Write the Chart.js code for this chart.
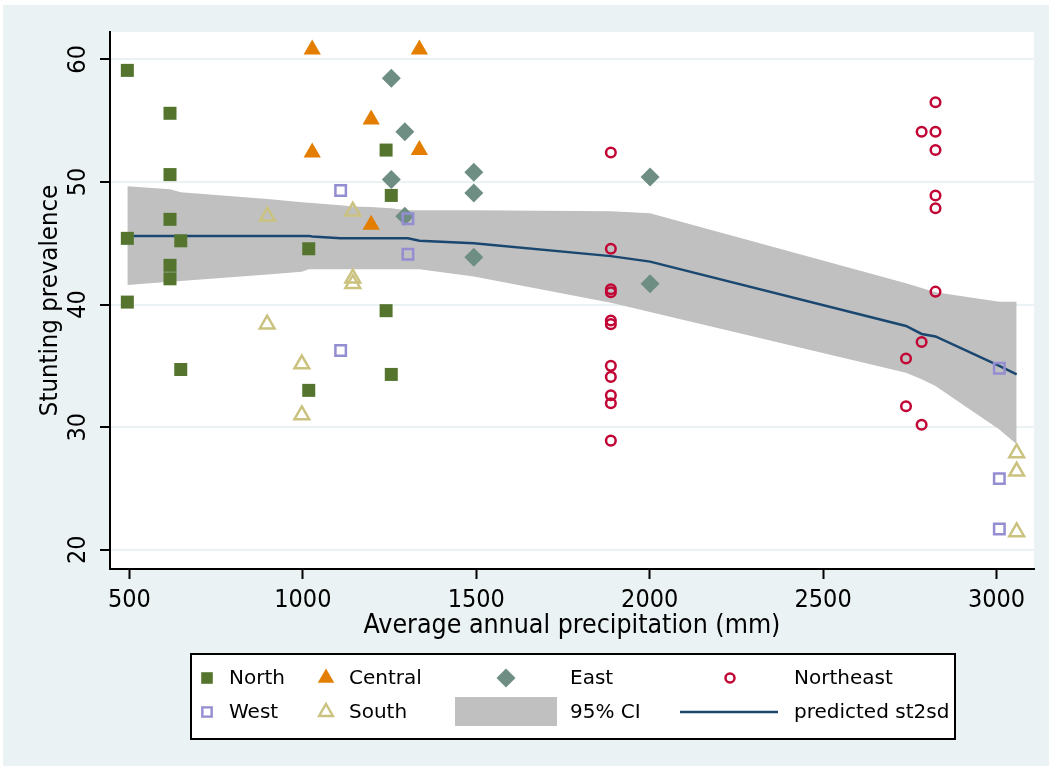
<!DOCTYPE html>
<html>
<head>
<meta charset="utf-8">
<title>Stunting prevalence and annual precipitation</title>
<script src="https://cdn.jsdelivr.net/npm/chart.js@4.4.1/dist/chart.umd.min.js"></script>
<style>
  html, body { margin: 0; padding: 0; background: #ffffff; }
  canvas { display: block; }
</style>
</head>
<body>
<canvas id="chart" width="1052" height="768"></canvas>
<script>
// Axis ticks
const precipTicks = [500, 1000, 1500, 2000, 2500, 3000];
const stuntingTicks = [20, 30, 40, 50, 60];

// Observations by region: average annual precipitation (mm) and stunting prevalence (%)
const northPrecip   = [494, 617, 617, 617, 494, 648, 617, 617, 494, 648, 1017, 1017, 1240, 1255, 1240, 1255];
const northStunting = [59.1, 55.6, 50.6, 46.95, 45.4, 45.2, 43.2, 42.1, 40.2, 34.7, 44.55, 33.0, 52.6, 48.9, 39.5, 34.3];

const centralPrecip   = [1027, 1336, 1197, 1027, 1336, 1197];
const centralStunting = [60.8, 60.8, 55.1, 52.4, 52.6, 46.5];

const eastPrecip   = [1255, 1294, 1255, 1493, 1493, 1294, 1493, 2001, 2001];
const eastStunting = [58.45, 54.1, 50.2, 50.8, 49.1, 47.2, 43.85, 50.4, 41.7];

const northeastPrecip   = [1888, 1888, 1888, 1888, 1888, 1888, 1888, 1888, 1888, 1888, 1888,
                           2824, 2784, 2824, 2824, 2824, 2824, 2824, 2784, 2739, 2739, 2784];
const northeastStunting = [52.4, 44.55, 41.25, 41.0, 38.7, 38.4, 35.0, 34.1, 32.6, 31.95, 28.9,
                           56.5, 54.1, 54.1, 52.6, 48.9, 47.85, 41.05, 36.95, 35.6, 31.7, 30.2];

const westPrecip   = [1109, 1303, 1303, 1109, 3008, 3008, 3008];
const westStunting = [49.3, 47.0, 44.1, 36.25, 34.8, 25.8, 21.7];

const southPrecip   = [898, 1144, 1144, 1144, 897, 997, 997, 3058, 3058, 3058];
const southStunting = [47.2, 47.6, 42.15, 41.7, 38.4, 35.15, 31.0, 27.9, 26.4, 21.45];

// Fitted prediction and its 95% confidence band
const fitPrecip   = [494, 617, 648, 898, 997, 1017, 1027, 1109, 1144, 1197, 1240, 1255, 1294, 1303, 1336, 1493, 1888, 2001, 2739, 2784, 2824, 3008, 3058];
const fitStunting = [45.6, 45.6, 45.6, 45.6, 45.6, 45.6, 45.55, 45.4, 45.4, 45.4, 45.4, 45.4, 45.4, 45.4, 45.2, 45.0, 43.95, 43.5, 38.25, 37.6, 37.4, 35.0, 34.3];
const ciUpper     = [49.65, 49.4, 49.15, 48.6, 48.35, 48.3, 48.28, 48.1, 48.0, 47.95, 47.87, 47.85, 47.72, 47.7, 47.7, 47.7, 47.6, 47.44, 41.73, 41.35, 41.0, 40.23, 40.23];
const ciLower     = [41.6, 41.86, 41.93, 42.46, 42.67, 42.87, 42.87, 42.87, 42.87, 42.87, 42.87, 42.87, 42.87, 42.87, 42.87, 42.29, 40.15, 39.4, 34.44, 33.9, 33.35, 29.8, 28.6];

// Palette
const C = {
  page: 'rgb(234,242,243)',
  north: 'rgb(85,117,47)',
  central: 'rgb(227,126,0)',
  east: 'rgb(110,142,132)',
  northeast: 'rgb(193,5,52)',
  west: 'rgb(147,141,210)',
  south: 'rgb(202,194,126)',
  ci: 'rgb(192,192,192)',
  fit: 'rgb(26,71,111)'
};
const axisFont = '"DejaVu Sans Condensed", "Liberation Sans Narrow", sans-serif';
const keyFont = '"DejaVu Sans", sans-serif';
const none = 'rgba(0,0,0,0)';

const pairs = (xs, ys) => xs.map((x, i) => ({ x: x, y: ys[i] }));

function markers(label, xs, ys, style, order) {
  return Object.assign({
    type: 'scatter',
    label: label,
    data: pairs(xs, ys),
    order: order,
    pointHoverRadius: style.pointRadius
  }, style);
}

const datasets = [
  markers('North', northPrecip, northStunting,
    { pointStyle: 'rect', pointRadius: 9.2, pointBorderWidth: 0, pointBackgroundColor: C.north, pointBorderColor: C.north }, 6),
  markers('Central', centralPrecip, centralStunting,
    { pointStyle: 'triangle', pointRadius: 10, pointBorderWidth: 0, pointBackgroundColor: C.central, pointBorderColor: C.central }, 5),
  markers('East', eastPrecip, eastStunting,
    { pointStyle: 'rectRot', pointRadius: 9.5, pointBorderWidth: 0, pointBackgroundColor: C.east, pointBorderColor: C.east }, 4),
  markers('Northeast', northeastPrecip, northeastStunting,
    { pointStyle: 'circle', pointRadius: 4.8, pointBorderWidth: 2.5, pointBackgroundColor: none, pointBorderColor: C.northeast }, 3),
  markers('West', westPrecip, westStunting,
    { pointStyle: 'rect', pointRadius: 7.4, pointBorderWidth: 2.5, pointBackgroundColor: none, pointBorderColor: C.west }, 2),
  markers('South', southPrecip, southStunting,
    { pointStyle: 'triangle', pointRadius: 8.5, pointBorderWidth: 2.5, pointBackgroundColor: none, pointBorderColor: C.south }, 1),
  {
    type: 'line', label: 'predicted st2sd', data: pairs(fitPrecip, fitStunting), order: 7,
    borderColor: C.fit, borderWidth: 2.5, pointRadius: 0, fill: false, tension: 0
  },
  {
    type: 'line', label: '95% CI', data: pairs(fitPrecip, ciUpper), order: 8,
    borderWidth: 0, borderColor: none, backgroundColor: C.ci, pointRadius: 0, fill: '+1', tension: 0
  },
  {
    type: 'line', label: '95% CI lower', data: pairs(fitPrecip, ciLower), order: 9,
    borderWidth: 0, borderColor: none, pointRadius: 0, fill: false, tension: 0
  }
];

// Page background and white plot region
const backdrop = {
  id: 'backdrop',
  beforeDraw(chart) {
    const { ctx, width, height, chartArea: a } = chart;
    ctx.save();
    ctx.fillStyle = '#ffffff';
    ctx.fillRect(0, 0, width, height);
    ctx.fillStyle = C.page;
    ctx.fillRect(3, 5, width - 6, height - 7);
    ctx.fillStyle = '#ffffff';
    ctx.fillRect(a.left, a.top, a.right - a.left, a.bottom - a.top);
    ctx.restore();
  }
};

// Boxed key below the plot: four columns, two rows
const keyEntries = [
  { label: 'North',           kind: 'point', style: 'rect',     r: 8.2, fill: C.north,     stroke: C.north,     bw: 0 },
  { label: 'Central',         kind: 'point', style: 'triangle', r: 9.5, fill: C.central,   stroke: C.central,   bw: 0 },
  { label: 'East',            kind: 'point', style: 'rectRot',  r: 9.5, fill: C.east,      stroke: C.east,      bw: 0 },
  { label: 'Northeast',       kind: 'point', style: 'circle',   r: 4.5, fill: none,        stroke: C.northeast, bw: 2.5 },
  { label: 'West',            kind: 'point', style: 'rect',     r: 6.6, fill: none,        stroke: C.west,      bw: 2.4 },
  { label: 'South',           kind: 'point', style: 'triangle', r: 8,   fill: none,        stroke: C.south,     bw: 2.4 },
  { label: '95% CI',          kind: 'area' },
  { label: 'predicted st2sd', kind: 'line' }
];
const keyBox = { left: 191, top: 654, width: 764, height: 85 };
const keyCols = [ { sym: 207, text: 229 }, { sym: 326, text: 349 }, { sym: 506, text: 570 }, { sym: 730, text: 794 } ];
const keyRows = [678, 712];

const regionKey = {
  id: 'regionKey',
  afterDraw(chart) {
    const ctx = chart.ctx;
    ctx.save();
    ctx.fillStyle = '#ffffff';
    ctx.fillRect(keyBox.left, keyBox.top, keyBox.width, keyBox.height);
    ctx.strokeStyle = '#000000';
    ctx.lineWidth = 2;
    ctx.strokeRect(keyBox.left, keyBox.top, keyBox.width, keyBox.height);

    keyEntries.forEach((e, i) => {
      const col = keyCols[i % 4];
      const y = keyRows[Math.floor(i / 4)];
      if (e.kind === 'point') {
        ctx.fillStyle = e.fill;
        ctx.strokeStyle = e.stroke;
        ctx.lineWidth = e.bw;
        Chart.helpers.drawPoint(ctx, { pointStyle: e.style, radius: e.r, rotation: 0, borderWidth: e.bw }, col.sym, y);
      } else if (e.kind === 'area') {
        ctx.fillStyle = C.ci;
        ctx.fillRect(col.sym - 51, y - 15, 102, 29);
      } else {
        ctx.strokeStyle = C.fit;
        ctx.lineWidth = 2.5;
        ctx.beginPath();
        ctx.moveTo(col.sym - 50, y);
        ctx.lineTo(col.sym + 48, y);
        ctx.stroke();
      }
      ctx.fillStyle = '#000000';
      ctx.font = '20px ' + keyFont;
      ctx.textAlign = 'left';
      ctx.textBaseline = 'middle';
      ctx.fillText(e.label, col.text, y + 1);
    });
    ctx.restore();
  }
};

new Chart(document.getElementById('chart'), {
  type: 'scatter',
  data: { datasets: datasets },
  plugins: [backdrop, regionKey],
  options: {
    responsive: false,
    devicePixelRatio: 1,
    animation: false,
    events: [],
    layout: { padding: { left: 0, top: 32, right: 18, bottom: 119 } },
    plugins: {
      legend: { display: false },
      tooltip: { enabled: false }
    },
    scales: {
      x: {
        type: 'linear',
        min: 444,
        max: 3108,
        afterBuildTicks: s => { s.ticks = precipTicks.map(v => ({ value: v })); },
        afterFit: s => { s.height = 80; },
        grid: { drawOnChartArea: false, drawTicks: true, tickLength: 10, tickColor: '#000000', tickWidth: 2 },
        border: { display: true, color: '#000000', width: 2 },
        ticks: {
          autoSkip: false, maxRotation: 0, minRotation: 0, padding: 6,
          color: '#000000', font: { family: axisFont, size: 25 },
          callback: v => String(v)
        },
        title: {
          display: true, text: 'Average annual precipitation (mm)', color: '#000000',
          font: { family: axisFont, size: 26.5 }, padding: { top: 0, bottom: 7 }
        }
      },
      y: {
        type: 'linear',
        min: 18.43,
        max: 62.23,
        afterBuildTicks: s => { s.ticks = stuntingTicks.map(v => ({ value: v })); },
        afterFit: s => { s.width = 110; },
        grid: { color: C.page, lineWidth: 2, drawTicks: true, tickLength: 10, tickColor: '#000000', tickWidth: 2 },
        border: { display: true, color: '#000000', width: 2 },
        ticks: {
          autoSkip: false, minRotation: 90, maxRotation: 90, crossAlign: 'center', padding: 7,
          color: '#000000', font: { family: axisFont, size: 25 },
          callback: v => String(v)
        },
        title: {
          display: true, text: 'Stunting prevalence', color: '#000000',
          font: { family: axisFont, size: 25.5 }, padding: { top: 35, bottom: 0 }
        }
      }
    }
  }
});
</script>
</body>
</html>
